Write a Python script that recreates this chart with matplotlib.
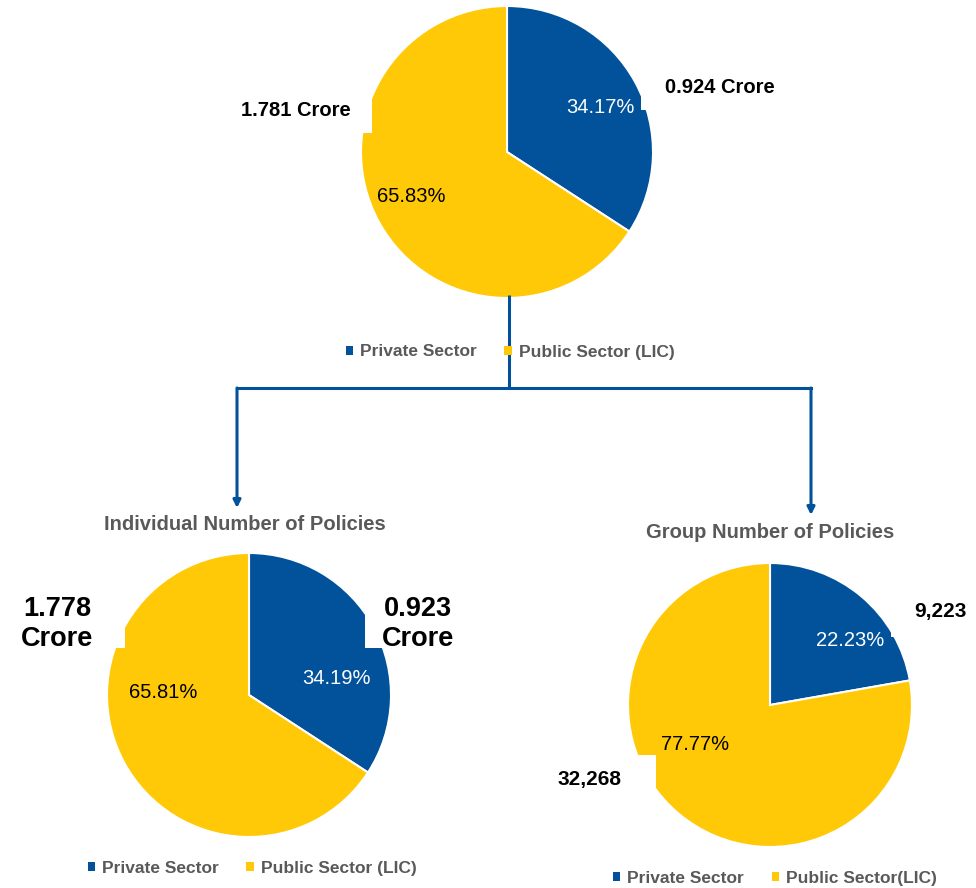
import matplotlib.pyplot as plt
from matplotlib.patches import Patch, Rectangle

# 数据
sectors = ['Private Sector', 'Public Sector (LIC)']
total_pct = [34.17, 65.83]
total_vals = ['0.924 Crore', '1.781 Crore']
indiv_pct = [34.19, 65.81]
indiv_vals = ['0.923\nCrore', '1.778\nCrore']
group_pct = [22.23, 77.77]
group_vals = ['9,223', '32,268']
group_sectors = ['Private Sector', 'Public Sector(LIC)']

BLUE = '#01529B'
YELLOW = '#FFC907'
GRAY = '#595959'
W, H = 976, 888

plt.rcParams['font.family'] = ['Liberation Sans', 'DejaVu Sans']

fig = plt.figure(figsize=(W / 100, H / 100), dpi=100)
ax = fig.add_axes([0, 0, 1, 1])


def up(y):
    # 像素坐标（自上而下）转成数据坐标
    return H - y


def draw_pie(values, cx, cy, r, pct_pos, val_texts, val_pos, val_size, boxes):
    ax.pie(values, colors=[BLUE, YELLOW], startangle=90, counterclock=False,
           center=(cx, up(cy)), radius=r,
           wedgeprops=dict(edgecolor='white', linewidth=1.5, zorder=1))
    # 标签底色（白底会压住饼图边缘）
    for x0, y0, x1, y1 in boxes:
        ax.add_patch(Rectangle((x0, up(y1)), x1 - x0, y1 - y0,
                               facecolor='white', edgecolor='none', zorder=2))
    for v, (px, py), c in zip(values, pct_pos, ['white', 'black']):
        ax.text(px, up(py), f'{v:.2f}%', color=c, fontsize=14.5,
                ha='center', va='center', zorder=3)
    for t, (px, py) in zip(val_texts, val_pos):
        ax.text(px, up(py), t, color='black', fontsize=val_size, fontweight='bold',
                ha='center', va='center', zorder=3)


# 总保单数
draw_pie(total_pct, 507, 152, 146,
         [(600, 108), (411, 196)], total_vals, [(720, 88), (296, 111)], 14.5,
         [(641, 65, 800, 110), (220, 75, 372, 133)])

# 个人保单
draw_pie(indiv_pct, 249, 695, 142,
         [(336, 678), (163, 692)], indiv_vals, [(418, 624), (57, 624)], 19.5,
         [(365, 580, 470, 648), (0, 580, 125, 648)])

# 团体保单
draw_pie(group_pct, 770, 705, 142,
         [(850, 641), (695, 745)], group_vals, [(940, 612), (590, 780)], 15,
         [(891, 590, 976, 637), (540, 755, 656, 810)])

ax.text(245, up(525), 'Individual Number of Policies', color=GRAY, fontsize=14.5,
        fontweight='bold', ha='center', va='center')
ax.text(770, up(532), 'Group Number of Policies', color=GRAY, fontsize=14.5,
        fontweight='bold', ha='center', va='center')

# 连接线与箭头
ax.plot([509, 509], [up(295), up(388)], color=BLUE, lw=2.2, zorder=4,
        solid_capstyle='butt')
ax.plot([237, 811], [up(388), up(388)], color=BLUE, lw=2.2, zorder=4,
        solid_capstyle='projecting')
for x, y_end in [(237, 508), (811, 515)]:
    ax.annotate('', xy=(x, up(y_end)), xytext=(x, up(388)),
                arrowprops=dict(arrowstyle='-|>', color=BLUE, lw=2.2,
                                mutation_scale=11, shrinkA=0, shrinkB=0),
                zorder=4)


def add_legend(labels, cx, cy):
    handles = [Patch(facecolor=BLUE), Patch(facecolor=YELLOW)]
    fig.legend(handles, labels, loc='center', bbox_to_anchor=(cx / W, 1 - cy / H),
               ncol=2, frameon=False, handlelength=0.42, handleheight=0.42,
               handletextpad=0.4, columnspacing=1.6, labelcolor=GRAY,
               prop=dict(family='Liberation Sans', weight='bold', size=12.5))


add_legend(sectors, 510, 352)
add_legend(sectors, 252, 868)
add_legend(group_sectors, 775, 878)

ax.set_xlim(0, W)
ax.set_ylim(0, H)
ax.set_aspect('equal')
ax.axis('off')

fig.savefig('out.png', dpi=100)
